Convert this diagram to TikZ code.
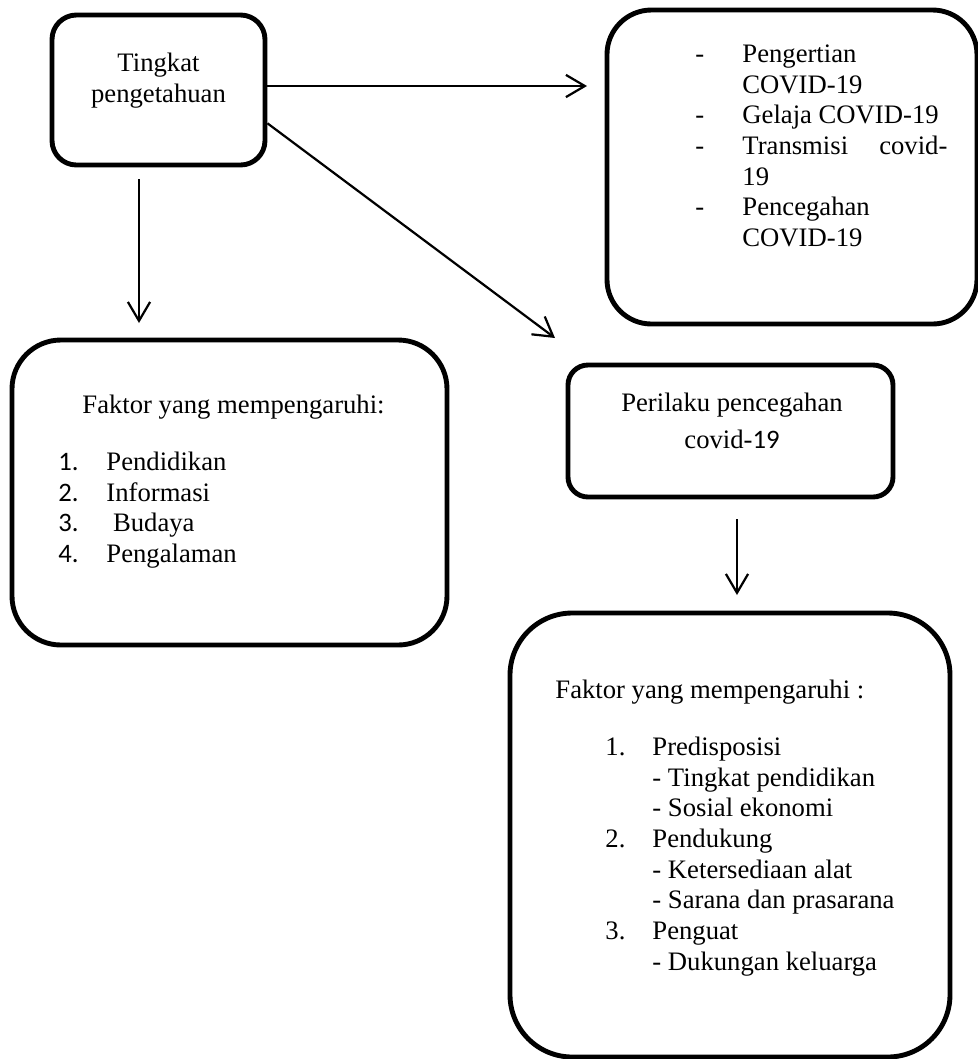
\documentclass[tikz,border=0pt]{standalone}
\usepackage{fontspec}
\setmainfont{Liberation Serif}
\newfontfamily\calibri{Carlito}
\usetikzlibrary{arrows.meta}

\begin{document}
\begin{tikzpicture}[x=0.45pt,y=-0.45pt]
\tikzstyle{every node}=[inner sep=0pt, font=\fontsize{12}{13.8}\selectfont]
\tikzstyle{box}=[draw, line width=2.2pt, rectangle]
\tikzstyle{arr}=[line width=1pt, -{Straight Barb[length=8.5pt,width=10pt,line width=1pt]}]
\useasboundingbox (0,0) rectangle (978,1059);
% boxes
\draw (158.5,90) node (tp) [box, rounded corners=11pt, minimum width=95.85pt, minimum height=67.5pt] {};
\draw (792,167) node (ps) [box, rounded corners=20pt, minimum width=166.5pt, minimum height=141.3pt] {};
\draw (229.5,492.5) node (fk) [box, rounded corners=22pt, minimum width=195.75pt, minimum height=137.25pt] {};
\draw (730.5,431) node (pp) [box, rounded corners=9pt, minimum width=146.25pt, minimum height=59.4pt] {};
\draw (730,835) node (fp) [box, rounded corners=28pt, minimum width=198pt, minimum height=199.8pt] {};
% texts
\draw (158.5,49.5) node (tpt) [anchor=north] {\begin{tabular}{@{}c@{}}Tingkat\\pengetahuan\end{tabular}};
\draw (695,40.5) node (pst) [anchor=north west] {\begin{tabular}{@{}p{21.15pt}@{}l@{}}
-& Pengertian\\
 & COVID-19\\
-& Gelaja COVID-19\\
-& \makebox[92.25pt][s]{Transmisi\hfill covid-}\\
 & 19\\
-& Pencegahan\\
 & COVID-19
\end{tabular}};
\draw (82,413) node (fkh) [anchor=base west] {Faktor yang mempengaruhi:};
\draw (58,448.5) node (fkl) [anchor=north west] {\begin{tabular}{@{}p{21.6pt}@{}l@{}}
{\calibri 1.}& Pendidikan\\
{\calibri 2.}& Informasi\\
{\calibri 3.}& \hspace{3pt}Budaya\\
{\calibri 4.}& Pengalaman
\end{tabular}};
\draw (732,389.5) node (ppt) [anchor=north] {\begin{tabular}{@{}c@{}}Perilaku pencegahan\\[2.7pt]covid-{\calibri 19}\end{tabular}};
\draw (555,698) node (fph) [anchor=base west] {Faktor yang mempengaruhi :};
\draw (605,733.5) node (fpl) [anchor=north west] {\begin{tabular}{@{}p{21.15pt}@{}l@{}}
1.& Predisposisi\\
  & - Tingkat pendidikan\\
  & - Sosial ekonomi\\
2.& Pendukung\\
  & - Ketersediaan alat\\
  & - Sarana dan prasarana\\
3.& Penguat\\
  & - Dukungan keluarga
\end{tabular}};
% arrows
\coordinate (ha) at (587,86);
\coordinate (da) at (555,338);
\coordinate (va) at (139,323);
\coordinate (vb) at (737,595);
\draw[arr] (tp.east |- ha) -- (ha);
\draw[arr] (tp.-17) -- (da);
\draw[arr, shorten <=5.4pt] (tp.south -| va) -- (va);
\draw[arr, shorten <=9pt] (pp.south -| vb) -- (vb);
\end{tikzpicture}
\end{document}
